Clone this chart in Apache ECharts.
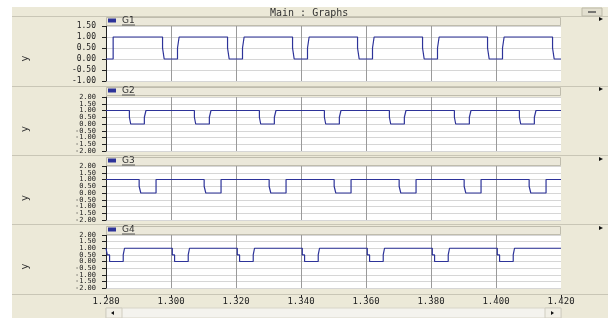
<!DOCTYPE html>
<html>
<head>
<meta charset="utf-8">
<script src="https://cdn.jsdelivr.net/npm/echarts@6/dist/echarts.min.js"></script>
<style>html,body{margin:0;padding:0;background:#fff}#c{width:608px;height:318px}</style>
</head>
<body>
<div id="c"></div>
<script>
const seriesNames = ['G1', 'G2', 'G3', 'G4'];
const xTicks = [1.28, 1.42, 0.02]; // min, max, step
const g1 = [
  [1.2800,0],[1.2822,0],[1.2822,1],
  [1.2974,1],[1.2974,0.5],[1.2979,0.5],[1.2979,0],[1.3020,0],[1.3020,0.5],[1.3025,0.5],[1.3025,1],
  [1.3174,1],[1.3174,0.5],[1.3179,0.5],[1.3179,0],[1.3220,0],[1.3220,0.5],[1.3225,0.5],[1.3225,1],
  [1.3374,1],[1.3374,0.5],[1.3379,0.5],[1.3379,0],[1.3420,0],[1.3420,0.5],[1.3425,0.5],[1.3425,1],
  [1.3574,1],[1.3574,0.5],[1.3579,0.5],[1.3579,0],[1.3620,0],[1.3620,0.5],[1.3625,0.5],[1.3625,1],
  [1.3774,1],[1.3774,0.5],[1.3779,0.5],[1.3779,0],[1.3820,0],[1.3820,0.5],[1.3825,0.5],[1.3825,1],
  [1.3974,1],[1.3974,0.5],[1.3979,0.5],[1.3979,0],[1.4020,0],[1.4020,0.5],[1.4025,0.5],[1.4025,1],
  [1.4174,1],[1.4174,0.5],[1.4179,0.5],[1.4179,0],[1.4200,0]
];
const g2 = [
  [1.2800,1],
  [1.2872,1],[1.2872,0.5],[1.2876,0.5],[1.2876,0],[1.2918,0],[1.2918,0.5],[1.2923,0.5],[1.2923,1],
  [1.3072,1],[1.3072,0.5],[1.3076,0.5],[1.3076,0],[1.3118,0],[1.3118,0.5],[1.3123,0.5],[1.3123,1],
  [1.3272,1],[1.3272,0.5],[1.3276,0.5],[1.3276,0],[1.3318,0],[1.3318,0.5],[1.3323,0.5],[1.3323,1],
  [1.3472,1],[1.3472,0.5],[1.3476,0.5],[1.3476,0],[1.3518,0],[1.3518,0.5],[1.3523,0.5],[1.3523,1],
  [1.3672,1],[1.3672,0.5],[1.3676,0.5],[1.3676,0],[1.3718,0],[1.3718,0.5],[1.3723,0.5],[1.3723,1],
  [1.3872,1],[1.3872,0.5],[1.3876,0.5],[1.3876,0],[1.3918,0],[1.3918,0.5],[1.3923,0.5],[1.3923,1],
  [1.4072,1],[1.4072,0.5],[1.4076,0.5],[1.4076,0],[1.4118,0],[1.4118,0.5],[1.4123,0.5],[1.4123,1],
  [1.4200,1]
];
const g3 = [
  [1.2800,1],
  [1.2902,1],[1.2902,0.5],[1.2907,0.5],[1.2907,0],[1.2954,0],[1.2954,1],
  [1.3102,1],[1.3102,0.5],[1.3107,0.5],[1.3107,0],[1.3154,0],[1.3154,1],
  [1.3302,1],[1.3302,0.5],[1.3307,0.5],[1.3307,0],[1.3354,0],[1.3354,1],
  [1.3502,1],[1.3502,0.5],[1.3507,0.5],[1.3507,0],[1.3554,0],[1.3554,1],
  [1.3702,1],[1.3702,0.5],[1.3707,0.5],[1.3707,0],[1.3754,0],[1.3754,1],
  [1.3902,1],[1.3902,0.5],[1.3907,0.5],[1.3907,0],[1.3954,0],[1.3954,1],
  [1.4102,1],[1.4102,0.5],[1.4107,0.5],[1.4107,0],[1.4154,0],[1.4154,1],
  [1.4200,1]
];
const g4 = [
  [1.2800,1],
  [1.2804,1],[1.2804,0.5],[1.2811,0.5],[1.2811,0],[1.2853,0],[1.2853,0.5],[1.2857,0.5],[1.2857,1],
  [1.3004,1],[1.3004,0.5],[1.3011,0.5],[1.3011,0],[1.3053,0],[1.3053,0.5],[1.3057,0.5],[1.3057,1],
  [1.3204,1],[1.3204,0.5],[1.3211,0.5],[1.3211,0],[1.3253,0],[1.3253,0.5],[1.3257,0.5],[1.3257,1],
  [1.3404,1],[1.3404,0.5],[1.3411,0.5],[1.3411,0],[1.3453,0],[1.3453,0.5],[1.3457,0.5],[1.3457,1],
  [1.3604,1],[1.3604,0.5],[1.3611,0.5],[1.3611,0],[1.3653,0],[1.3653,0.5],[1.3657,0.5],[1.3657,1],
  [1.3804,1],[1.3804,0.5],[1.3811,0.5],[1.3811,0],[1.3853,0],[1.3853,0.5],[1.3857,0.5],[1.3857,1],
  [1.4004,1],[1.4004,0.5],[1.4011,0.5],[1.4011,0],[1.4053,0],[1.4053,0.5],[1.4057,0.5],[1.4057,1],
  [1.4200,1]
];
const yRanges = [[-1, 1.5], [-2, 2], [-2, 2], [-2, 2]];
const yStep = 0.5;
const titleText = 'Main : Graphs';
const yName = 'y';

const allData = [g1, g2, g3, g4];
const gridTops = [26, 97, 166, 235];
const gridHeights = [55, 54, 54, 53];
const stripTops = [17, 87, 157, 226];
const lineColor = '#2d3399';
const beige = '#ECE9D8';
const labelFont = 'DejaVu Sans Mono';

const chart = echarts.init(document.getElementById('c'), null, {renderer: 'canvas'});

const grids = [], xAxes = [], yAxes = [];
gridTops.forEach((t, i) => {
  const last = i === 3;
  grids.push({left: 106, right: 47, top: t, height: gridHeights[i],
    show: true, backgroundColor: '#ffffff', borderWidth: 0});
  xAxes.push({
    gridIndex: i, type: 'value', min: xTicks[0], max: xTicks[1], interval: xTicks[2],
    offset: last ? 6 : 0,
    axisLine: {show: last, onZero: false, lineStyle: {color: '#222'}},
    axisTick: {show: last, length: 4, lineStyle: {color: '#222'}},
    axisLabel: {show: last, margin: 3, fontSize: 9, fontFamily: labelFont, color: '#222',
      formatter: v => v.toFixed(3)},
    splitLine: {show: true, showMaxLine: false, lineStyle: {color: '#9a9a9a', width: 1}}
  });
  const r = yRanges[i];
  const dense = i > 0;
  yAxes.push({
    gridIndex: i, type: 'value', min: r[0], max: r[1], interval: dense ? yStep * 2 : yStep,
    name: yName, nameLocation: 'middle', nameGap: 76, nameRotate: 90,
    nameTextStyle: {fontSize: 10, fontFamily: 'DejaVu Sans', color: '#333', padding: [0, 10, 0, 0]},
    axisLine: {show: true, onZero: false, lineStyle: {color: '#222'}},
    axisTick: {show: true, length: 4, lineStyle: {color: '#222'}},
    minorTick: {show: dense, splitNumber: 2, length: 4, lineStyle: {color: '#222'}},
    minorSplitLine: {show: dense, lineStyle: {color: '#d6d6d6', width: 1}},
    axisLabel: {margin: 10, fontSize: dense ? 7 : 8, fontFamily: labelFont, color: '#222',
      showMinLabel: true, showMaxLabel: true, formatter: v => v.toFixed(2)},
    splitLine: {show: true, lineStyle: {color: '#d6d6d6', width: 1}}
  });
});
// companion label axes for the half-step labels of the dense panels
for (let i = 1; i < 4; i++) {
  const h = gridHeights[i], span = yRanges[i][1] - yRanges[i][0];
  const inset = h * yStep / span;
  const gi = grids.length;
  grids.push({left: 106, right: 47, top: gridTops[i] + inset, height: h - 2 * inset, show: false});
  xAxes.push({gridIndex: gi, type: 'value', min: xTicks[0], max: xTicks[1], show: false});
  yAxes.push({
    gridIndex: gi, type: 'value', min: yRanges[i][0] + yStep, max: yRanges[i][1] - yStep, interval: yStep * 2,
    axisLine: {show: false}, axisTick: {show: false}, splitLine: {show: false},
    axisLabel: {margin: 10, fontSize: 7, fontFamily: labelFont, color: '#222',
      showMinLabel: true, showMaxLabel: true, formatter: v => v.toFixed(2)}
  });
}

const legends = seriesNames.map((n, i) => ({
  data: [n], left: 108, top: stripTops[i] - 1, padding: 0,
  itemWidth: 8, itemHeight: 4, icon: 'rect', selectedMode: false, itemGap: 4,
  textStyle: {fontSize: 9, fontFamily: 'DejaVu Sans', color: '#333', padding: [0,0,0,1]}
}));

const series = seriesNames.map((n, i) => ({
  name: n, type: 'line', xAxisIndex: i, yAxisIndex: i,
  data: allData[i], showSymbol: false, symbol: 'none',
  itemStyle: {color: lineColor},
  lineStyle: {color: lineColor, width: 1.2}
}));

const graphic = [];
graphic.push({type: 'rect', shape: {x: 0, y: 0, width: 608, height: 7}, style: {fill: '#fff'}, z: 1});
graphic.push({type: 'rect', shape: {x: 0, y: 0, width: 12, height: 318}, style: {fill: '#fff'}, z: 1});
graphic.push({type: 'line', shape: {x1: 12, y1: 16.5, x2: 608, y2: 16.5}, style: {stroke: '#c9c6b6', lineWidth: 1}, z: 1});
graphic.push({type: 'text', left: 270, top: 8, style: {text: titleText, fontSize: 10, fontFamily: labelFont,
  fill: '#333'}, z: 2});
graphic.push({type: 'rect', shape: {x: 582, y: 8, width: 20, height: 8}, style: {fill: '#e2dfcf', stroke: '#bdbaa9'}, z: 2});
graphic.push({type: 'line', shape: {x1: 588, y1: 12, x2: 596, y2: 12}, style: {stroke: '#555', lineWidth: 1.5}, z: 3});
[86, 155, 224, 294].forEach(y => {
  graphic.push({type: 'line', shape: {x1: 12, y1: y + 0.5, x2: 608, y2: y + 0.5}, style: {stroke: '#c9c6b6', lineWidth: 1}, z: 1});
});
stripTops.forEach((t, i) => {
  graphic.push({type: 'rect', shape: {x: 106.5, y: t + 0.5, width: 454, height: 8}, style: {fill: '#ebe8da', stroke: '#bfbcad'}, z: 1});
  graphic.push({type: 'line', shape: {x1: 122, y1: t + 8, x2: 135, y2: t + 8}, style: {stroke: '#555', lineWidth: 1}, z: 5});
  const ty = t + 2;
  graphic.push({type: 'polygon', shape: {points: [[599, ty - 2], [603, ty], [599, ty + 2]]}, style: {fill: '#111'}, z: 2});
});
graphic.push({type: 'rect', shape: {x: 106, y: 308, width: 455, height: 10}, style: {fill: '#f4f3ee', stroke: '#d8d5c8'}, z: 1});
graphic.push({type: 'rect', shape: {x: 106, y: 308, width: 16, height: 10}, style: {fill: '#f1efe6', stroke: '#d0cdc0'}, z: 2});
graphic.push({type: 'rect', shape: {x: 545, y: 308, width: 16, height: 10}, style: {fill: '#f1efe6', stroke: '#d0cdc0'}, z: 2});
graphic.push({type: 'polygon', shape: {points: [[114, 311], [111, 313], [114, 315]]}, style: {fill: '#111'}, z: 3});
graphic.push({type: 'polygon', shape: {points: [[551, 311], [554, 313], [551, 315]]}, style: {fill: '#111'}, z: 3});

chart.setOption({
  backgroundColor: beige,
  animation: false,
  grid: grids,
  xAxis: xAxes,
  yAxis: yAxes,
  legend: legends,
  series: series,
  graphic: graphic
});
</script>
</body>
</html>
